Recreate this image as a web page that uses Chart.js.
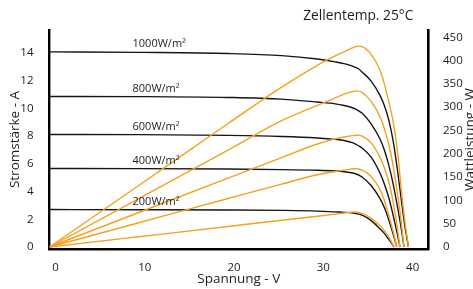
<!DOCTYPE html>
<html><head><meta charset="utf-8">
<script src="https://cdn.jsdelivr.net/npm/chart.js@4.4.0/dist/chart.umd.min.js"></script>
<style>html,body{margin:0;padding:0;background:#fff;overflow:hidden}canvas{display:block}</style>
</head><body>
<canvas id="c" width="473" height="289"></canvas>
<script>
// ---- data ----
const chartTitle = 'Zellentemp. 25°C';
const xTitle = 'Spannung - V';
const yTitle = 'Stromstärke - A';
const y2Title = 'Wattleistung - W';
const irradianceLabels = ['1000W/m²', '800W/m²', '600W/m²', '400W/m²', '200W/m²'];

const v1000 = [0, 10, 20, 26, 30, 32, 33, 34, 34.6, 35, 36, 37, 37.5, 38, 38.5, 39, 39.5, 39.8, 40.2];
const i1000 = [14.07, 14.03, 13.95, 13.8, 13.55, 13.35, 13.22, 13.02, 12.85, 12.62, 11.98, 10.95, 10.2, 9.15, 7.6, 5.4, 2.9, 1.5, 0];
const p1000 = [0, 132, 265, 343, 390, 410, 419, 428, 431, 430, 414, 380, 350, 311, 268, 200, 105, 55, 0];

const v800 = [0, 10, 20, 26, 30, 32, 33, 34, 34.4, 35, 36, 37, 37.5, 38, 38.5, 39, 39.3, 39.7];
const i800 = [10.85, 10.84, 10.78, 10.66, 10.45, 10.32, 10.2, 10.02, 9.9, 9.66, 8.9, 7.8, 7.0, 5.9, 4.5, 2.8, 1.7, 0];
const p800 = [0, 104, 208, 271, 304, 320, 328, 334, 335, 332, 313, 280, 254, 220, 173, 110, 68, 0];

const v600 = [0, 10, 20, 26, 30, 32, 33, 34, 34.6, 35, 36, 37, 37.5, 38, 38.5, 38.9, 39.25];
const i600 = [8.11, 8.1, 8.05, 7.97, 7.86, 7.76, 7.68, 7.5, 7.3, 7.14, 6.5, 5.35, 4.55, 3.55, 2.25, 1.1, 0];
const p600 = [0, 74, 148, 192, 221, 232, 236, 239, 240, 238, 224, 193, 170, 140, 95, 48, 0];

const v400 = [0, 10, 20, 26, 30, 32, 33, 34.2, 35, 36, 37, 37.5, 38, 38.5, 38.9];
const i400 = [5.66, 5.65, 5.62, 5.58, 5.53, 5.48, 5.43, 5.3, 5.05, 4.45, 3.5, 2.85, 1.95, 0.9, 0];
const p400 = [0, 52, 104, 135, 155, 162, 165, 168, 165, 152, 124, 100, 68, 32, 0];

const v200 = [0, 10, 20, 26, 30, 32, 33, 34, 35, 36, 37, 37.5, 38, 38.6];
const i200 = [2.7, 2.69, 2.67, 2.64, 2.59, 2.53, 2.5, 2.44, 2.3, 1.92, 1.32, 0.98, 0.55, 0];
const p200 = [0, 22, 44, 57.5, 66, 70.5, 73, 75, 72, 62, 46, 35, 21, 0];

const xTicks = [0, 10, 20, 30, 40];
const yTicks = [0, 2, 4, 6, 8, 10, 12, 14];
const y2Ticks = [0, 50, 100, 150, 200, 250, 300, 350, 400, 450];

// ---- build ----
const voltages = [v1000, v800, v600, v400, v200];
const currents = [i1000, i800, i600, i400, i200];
const powers = [p1000, p800, p600, p400, p200];

const ORANGE = '#F5A01F';
const BLACK = '#161616';
const FONT = '"Open Sans", "Noto Sans", sans-serif';
Chart.defaults.font.family = FONT;
Chart.defaults.color = '#1e1e1e';

const pts = (vs, ys) => vs.map((v, k) => ({x: v, y: ys[k]}));
const datasets = [];
powers.forEach((p, k) => datasets.push({
  label: 'P ' + irradianceLabels[k], data: pts(voltages[k], p), yAxisID: 'y1',
  borderColor: ORANGE, borderWidth: 1.4, pointRadius: 0, fill: false,
  cubicInterpolationMode: 'monotone', order: 1
}));
currents.forEach((c, k) => datasets.push({
  label: 'I ' + irradianceLabels[k], data: pts(voltages[k], c), yAxisID: 'y',
  borderColor: BLACK, borderWidth: 1.4, pointRadius: 0, fill: false,
  cubicInterpolationMode: 'monotone', order: 2
}));

const textPlugin = {
  id: 'texts',
  afterDatasetsDraw(chart) {
    const {ctx, scales: {x, y}, chartArea} = chart;
    ctx.save();
    ctx.fillStyle = '#1e1e1e';
    ctx.font = '11px ' + FONT;
    ctx.textAlign = 'left';
    ctx.textBaseline = 'middle';
    irradianceLabels.forEach((lab, k) => {
      ctx.fillText(lab, x.getPixelForValue(9.3), y.getPixelForValue(currents[k][0]) - 8);
    });
    ctx.font = '13.8px ' + FONT;
    ctx.textAlign = 'center';
    ctx.fillText(chartTitle, 358.3, 16);
    ctx.translate(474, (chartArea.top + chartArea.bottom) / 2);
    ctx.rotate(-Math.PI / 2);
    ctx.font = '13.5px ' + FONT;
    ctx.textBaseline = 'alphabetic';
    ctx.fillText(y2Title, 0, 0);
    ctx.restore();
  }
};

new Chart(document.getElementById('c'), {
  type: 'line',
  data: {datasets},
  options: {
    responsive: false, animation: false, devicePixelRatio: 1,
    layout: {padding: {top: 30, left: 0, right: 0, bottom: 0}},
    plugins: {legend: {display: false}, tooltip: {enabled: false}, title: {display: false}},
    scales: {
      x: {
        type: 'linear', position: 'bottom', min: 0, max: 42.39,
        grid: {display: false},
        border: {display: true, width: 2.6, color: '#000'},
        afterBuildTicks: s => { s.ticks = xTicks.map(v => ({value: v})); },
        ticks: {labelOffset: 6, padding: 3.5, font: {size: 11.5}, maxRotation: 0, color: '#1e1e1e'},
        title: {display: true, text: xTitle, font: {size: 13.5}, color: '#1e1e1e', padding: {top: 0, bottom: 1.6}},
        afterFit: s => { s.height = 40; }
      },
      y: {
        type: 'linear', position: 'left', min: -0.144, max: 15.645,
        grid: {display: false},
        border: {display: true, width: 2.4, color: '#000'},
        afterBuildTicks: s => { s.ticks = yTicks.map(v => ({value: v})); },
        ticks: {padding: 8, font: {size: 11.5}, color: '#1e1e1e'},
        title: {display: true, text: yTitle, font: {size: 13.5}, color: '#1e1e1e', padding: {top: 7.5, bottom: 0}},
        afterFit: s => { s.width = 49.5; }
      },
      y1: {
        type: 'linear', position: 'right', min: -4.29, max: 465.7,
        grid: {display: false},
        border: {display: true, width: 2.6, color: '#000'},
        afterBuildTicks: s => { s.ticks = y2Ticks.map(v => ({value: v})); },
        ticks: {padding: 7, font: {size: 11.5}, color: '#1e1e1e'},
        afterFit: s => { s.width = 45; }
      }
    }
  },
  plugins: [textPlugin]
});
</script>
</body></html>
